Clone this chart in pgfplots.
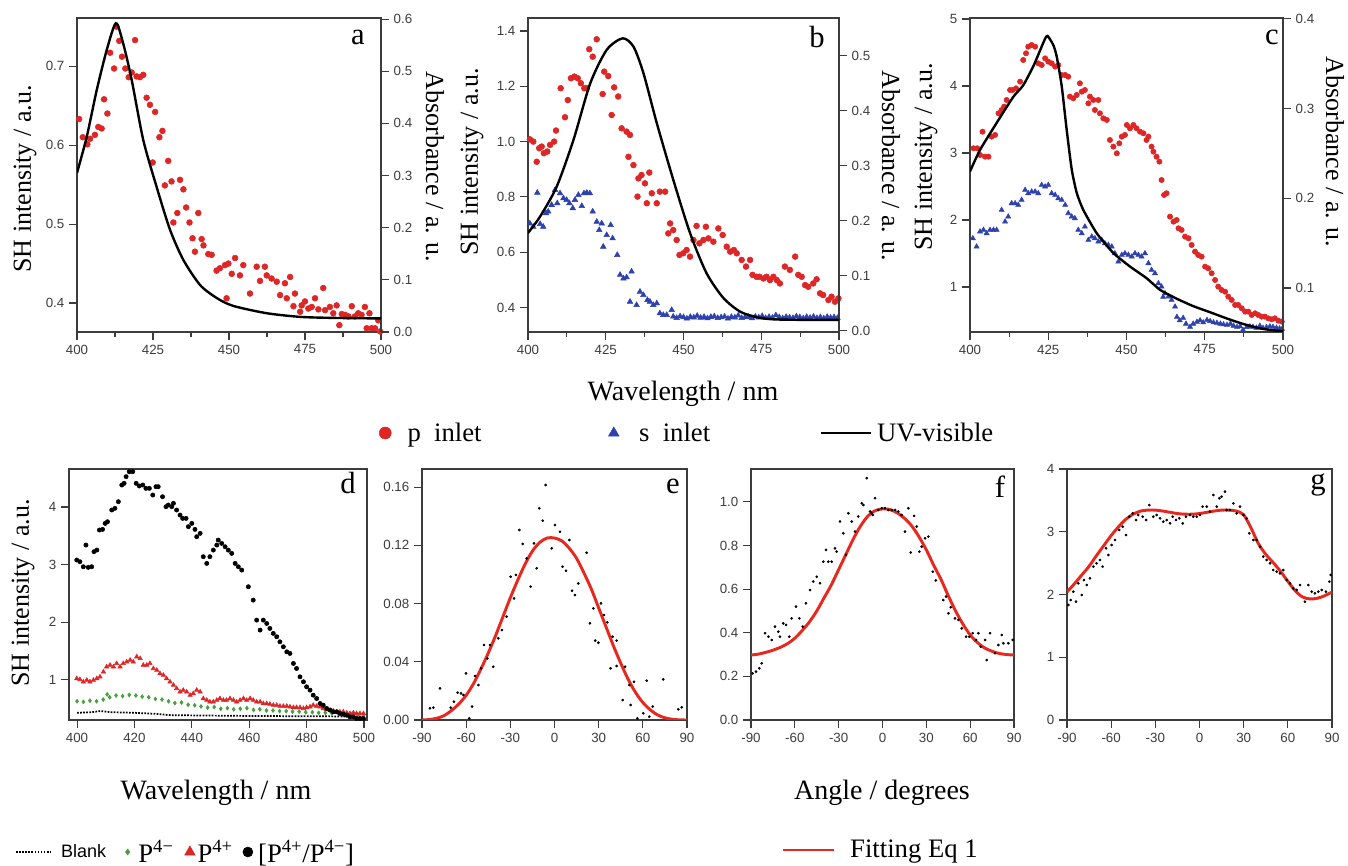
\documentclass[border=0pt]{standalone}
\usepackage{fontspec}
\setmainfont{Liberation Serif}
\setsansfont{Liberation Sans}
\usepackage{pgfplots}
\pgfplotsset{compat=1.18}

\definecolor{ptred}{RGB}{222,38,38}
\definecolor{ptblue}{RGB}{45,65,175}
\definecolor{ptgreen}{RGB}{70,160,60}
\definecolor{fitred}{RGB}{232,40,30}
\definecolor{axgray}{RGB}{60,60,60}

\newcommand{\lbl}{\fontsize{19.5}{22}\selectfont}
\newcommand{\letterfont}{\fontsize{23}{25}\selectfont}

\pgfplotsset{
  panel/.style={
    scale only axis, anchor=south west,
    axis line style={line width=0.9pt, draw=axgray},
    every tick/.style={line width=0.8pt, draw=axgray},
    tick align=outside,
    major tick length=6pt, minor tick length=3.5pt,
    tick label style={font=\sffamily\fontsize{10}{12}\selectfont, text=axgray},
    /pgf/number format/assume math mode=true,
    scaled ticks=false,
  },
  topL/.style={panel, height=235.5pt, xmin=400, xmax=500,
    xtick={400,425,...,500}, minor x tick num=1, tick pos=left},
  topR/.style={panel, height=235.5pt, xmin=400, xmax=500,
    axis x line=none, axis y line*=right,
    yticklabel style={/pgf/number format/fixed,
      /pgf/number format/fixed zerofill, /pgf/number format/precision=1}},
  bot/.style={panel, height=188.25pt, tick pos=left},
  angle/.style={bot, xmin=-90, xmax=90, xtick={-90,-60,...,90}},
  reddot/.style={only marks, mark=*, color=ptred, mark size=2.2pt},
  bluetri/.style={only marks, mark=triangle*, color=ptblue, mark size=2.4pt},
  uvline/.style={black, line width=1.8pt, smooth, tension=0.45},
  smalldot/.style={only marks, mark=*, black, mark size=0.8pt},
  fitline/.style={fitred, line width=2.2pt, smooth},
  % legend images: mark of given size, then empty room up to the text
  legmark/.style 2 args={legend image code/.code={
    \draw[##1, mark size=#1] plot coordinates {(0pt,0pt)}; \path (#2,0pt);}},
  legline/.style 2 args={legend image code/.code={
    \draw[##1] (0pt,0pt) -- (#1,0pt); \path (#2,0pt);}},
  plainleg/.style={draw=none, fill=none, inner sep=0pt, column sep=0pt,
    nodes={inner sep=0pt}, font=\fontsize{20}{24}\selectfont},
}

\begin{document}
\begin{tikzpicture}
\path[use as bounding box] (0,0) rectangle (1011pt,649.5pt);

% ---------------- panel a ----------------
\begin{axis}[topL, at={(57.75pt,400.5pt)}, width=228pt,
  ymin=0.3633, ymax=0.761, ytick={0.4,0.5,0.6,0.7}]
\addplot[reddot] coordinates {
(400.7,0.633) (401.9,0.610) (403.4,0.601) (404.3,0.608) (405.9,0.613) (407.0,0.623)
(408.1,0.621) (408.9,0.658) (410.0,0.640) (410.9,0.717) (412.2,0.697) (413.0,0.750)
(413.9,0.732) (414.8,0.712) (415.9,0.697) (417.0,0.686) (418.0,0.692) (419.1,0.733)
(419.6,0.687) (420.7,0.686) (421.8,0.689) (422.9,0.660) (424.0,0.651) (425.7,0.642)
(424.9,0.578) (427.1,0.610) (428.1,0.618) (428.9,0.549) (430.0,0.580) (431.1,0.554)
(431.7,0.502) (433.0,0.514) (433.9,0.556) (435.0,0.544) (435.9,0.521) (437.0,0.502)
(438.0,0.482) (438.8,0.465) (439.9,0.514) (441.0,0.481) (441.6,0.473) (443.2,0.462)
(444.3,0.461) (445.9,0.441) (447.0,0.444) (448.7,0.448) (449.2,0.406) (449.8,0.450)
(450.9,0.437) (452.0,0.457) (453.6,0.435) (454.7,0.448) (456.9,0.412) (459.1,0.446)
(460.2,0.428) (461.8,0.446) (462.4,0.435) (464.0,0.431) (465.7,0.427) (466.8,0.410)
(468.4,0.425) (469.0,0.406) (470.1,0.433) (471.2,0.396) (471.7,0.412) (473.4,0.389)
(473.9,0.397) (475.0,0.402) (476.1,0.393) (477.2,0.395) (478.3,0.406) (479.4,0.392)
(481.0,0.419) (481.6,0.391) (483.2,0.395) (484.3,0.387) (485.4,0.397) (486.3,0.372)
(487.1,0.386) (488.2,0.385) (489.3,0.383) (490.4,0.396) (491.4,0.383) (492.5,0.387)
(493.6,0.385) (494.7,0.395) (495.3,0.368) (496.2,0.387) (496.9,0.368) (498.0,0.368)
(499.1,0.378) (499.7,0.364)};
\end{axis}
\begin{axis}[topR, at={(57.75pt,400.5pt)}, width=228pt,
  ymin=0, ymax=0.602, ytick={0,0.1,...,0.6}]
\addplot[uvline] coordinates {
(400,0.305) (403.2,0.374) (406.5,0.464) (409.8,0.541) (412.8,0.592) (415.2,0.553)
(418,0.483) (421.8,0.368) (426.2,0.278) (430.6,0.196) (435,0.138) (440.5,0.090)
(446,0.065) (451.4,0.050) (462.4,0.036) (473.4,0.029) (484.3,0.027) (500,0.026)};
\end{axis}

% ---------------- panel b ----------------
\begin{axis}[topL, at={(396pt,400.5pt)}, width=233.25pt,
  ymin=0.3114, ymax=1.447, ytick={0.4,0.6,...,1.4},
  yticklabel style={/pgf/number format/fixed,
    /pgf/number format/fixed zerofill, /pgf/number format/precision=1},
  legend columns=3,
  legend style={plainleg, at={(-0.4791,-0.3217)}, anchor=west}]
\addplot[reddot, legmark={4.5pt}{16.5pt}] coordinates {
(400.6,1.008) (401.7,1.000) (402.8,0.927) (403.6,0.976) (404.4,0.982) (405.1,0.958)
(406.2,0.964) (407.1,0.988) (408.4,1.000) (409.0,1.040) (410.5,1.193) (411.9,1.088)
(412.8,1.150) (413.8,1.229) (414.9,1.235) (416.0,1.229) (417.0,1.211) (418.1,1.193)
(418.9,1.193) (419.7,1.334) (420.8,1.307) (422.1,1.370) (424.0,1.172) (424.5,1.253)
(425.8,1.237) (426.9,1.096) (427.7,1.196) (429.0,1.163) (430.1,1.048) (431.7,1.036)
(432.8,1.024) (432.3,0.945) (433.9,0.915) (435.5,0.867) (436.5,0.879) (437.6,0.849)
(439.0,0.888) (435.2,0.801) (438.2,0.777) (439.8,0.813) (441.4,0.777) (442.4,0.819)
(444.1,0.819) (445.7,0.704) (445.1,0.668) (446.7,0.680) (447.8,0.644) (448.7,0.590)
(449.9,0.596) (451.0,0.608) (452.1,0.584) (453.2,0.644) (454.2,0.695) (455.1,0.632)
(456.4,0.644) (457.2,0.692) (458.0,0.650) (459.6,0.638) (461.2,0.686) (462.6,0.662)
(463.9,0.620) (465.0,0.602) (466.2,0.608) (467.1,0.596) (468.7,0.572) (470.1,0.548)
(471.4,0.572) (472.2,0.518) (473.5,0.511) (474.4,0.511) (475.7,0.505) (476.7,0.511)
(477.8,0.499) (478.9,0.511) (480.0,0.499) (481.0,0.487) (482.6,0.548) (484.2,0.536)
(485.9,0.584) (486.9,0.518) (488.0,0.511) (489.1,0.481) (490.1,0.475) (491.7,0.487)
(492.8,0.502) (493.9,0.451) (494.9,0.445) (496.6,0.427) (497.6,0.439) (498.7,0.421)
(499.8,0.433)};
\addlegendentry{p\ \ inlet\hspace*{95.25pt}}
\addplot[bluetri, legmark={4.5pt}{18.75pt}] coordinates {
(400.6,0.704) (401.7,0.692) (403.0,0.815) (403.9,0.702) (404.9,0.692) (405.8,0.741)
(406.5,0.747) (407.6,0.771) (408.7,0.825) (409.4,0.777) (410.3,0.813) (411.4,0.795)
(412.4,0.789) (413.3,0.777) (414.4,0.759) (415.1,0.789) (416.2,0.807) (417.3,0.767)
(418.0,0.813) (418.9,0.815) (419.9,0.813) (420.8,0.747) (422.1,0.710) (422.9,0.680)
(423.7,0.704) (424.2,0.620) (425.3,0.662) (426.6,0.698) (427.2,0.650) (428.7,0.590)
(429.6,0.518) (430.7,0.505) (431.7,0.509) (433.3,0.530) (432.8,0.421) (434.9,0.409)
(436.0,0.457) (437.1,0.445) (438.4,0.427) (439.2,0.421) (440.3,0.409) (441.4,0.415)
(442.4,0.379) (443.5,0.373) (444.6,0.373) (446.2,0.391) (446.7,0.367) (447.8,0.362)
(448.9,0.368) (450.0,0.365) (451.1,0.360) (452.2,0.366) (453.3,0.364) (454.4,0.370)
(455.5,0.363) (456.6,0.366) (457.7,0.361) (458.8,0.366) (459.9,0.368) (461.0,0.362)
(462.1,0.365) (463.2,0.367) (464.3,0.360) (465.4,0.366) (466.5,0.364) (467.6,0.371)
(468.7,0.362) (469.8,0.365) (470.9,0.366) (472.0,0.361) (473.1,0.367) (474.2,0.364)
(475.3,0.369) (476.4,0.362) (477.5,0.366) (478.6,0.363) (479.7,0.372) (480.8,0.365)
(481.9,0.361) (483.0,0.366) (484.1,0.364) (485.2,0.362) (486.3,0.368) (487.4,0.365)
(488.5,0.361) (489.6,0.366) (490.7,0.363) (491.8,0.367) (492.9,0.362) (494.0,0.365)
(495.1,0.361) (496.2,0.366) (497.3,0.363) (498.4,0.365) (499.5,0.362)};
\addlegendentry{s\ \ inlet\hspace*{82.5pt}}
\addlegendimage{uvline, legline={37.5pt}{41pt}}
\addlegendentry{UV-visible}
\end{axis}
\begin{axis}[topR, at={(396pt,400.5pt)}, width=233.25pt,
  ymin=-0.002, ymax=0.569, ytick={0,0.1,...,0.5}]
\addplot[uvline] coordinates {
(400,0.178) (403.9,0.208) (409.2,0.262) (414.6,0.347) (420,0.450) (425.3,0.511)
(430.4,0.532) (433.9,0.517) (437.1,0.469) (441.4,0.378) (446.7,0.275) (452.1,0.178)
(457.4,0.105) (462.8,0.060) (468.2,0.035) (473.5,0.025) (478.9,0.021) (489.6,0.020)
(500,0.020)};
\end{axis}

% ---------------- panel c ----------------
\begin{axis}[topL, at={(727.5pt,400.5pt)}, width=234.75pt,
  ymin=0.328, ymax=5.015, ytick={1,2,3,4,5}]
\addplot[reddot, mark size=2pt] coordinates {
(401.1,3.070) (402.3,3.070) (403.2,2.970) (404.0,3.318) (404.8,2.945) (405.9,2.945)
(406.9,3.244) (408.0,3.269) (409.1,3.592) (410.1,3.642) (410.9,3.692) (411.7,3.791)
(412.8,3.940) (413.6,3.940) (414.7,3.965) (416.0,4.065) (417.0,4.388) (417.9,4.488)
(418.6,4.587) (419.7,4.612) (420.8,4.587) (421.8,4.338) (422.9,4.313) (424.0,4.413)
(425.0,4.363) (426.1,4.338) (427.2,4.289) (428.2,4.313) (429.3,4.164) (430.4,4.164)
(431.4,4.139) (431.9,3.841) (433.0,3.816) (434.1,3.866) (435.1,4.040) (435.7,3.915)
(436.7,3.940) (437.8,3.741) (438.3,3.841) (439.4,3.791) (439.9,3.642) (441.0,3.791)
(441.5,3.592) (442.6,3.517) (443.7,3.493) (444.7,3.194) (445.8,3.095) (446.9,2.995)
(447.7,3.144) (448.5,3.244) (449.5,3.269) (450.1,3.418) (451.1,3.368) (452.2,3.418)
(453.2,3.368) (454.3,3.318) (455.4,3.294) (456.4,3.194) (457.0,3.244) (458.0,3.095)
(458.6,3.020) (459.6,2.945) (460.5,2.871) (461.2,2.597) (462.0,2.373) (462.8,2.398)
(463.9,2.050) (465.0,1.975) (466.0,2.000) (466.6,1.876) (467.6,1.851) (468.7,1.751)
(469.8,1.726) (470.8,1.627) (471.9,1.527) (472.9,1.478) (474.0,1.453) (475.1,1.303)
(476.1,1.279) (477.2,1.204) (478.3,1.104) (479.3,1.005) (480.4,0.955) (481.5,0.930)
(482.5,0.856) (483.6,0.806) (484.7,0.731) (485.7,0.731) (486.8,0.682) (487.9,0.632)
(488.9,0.632) (490.0,0.582) (491.1,0.607) (492.1,0.582) (493.2,0.557) (494.2,0.557)
(495.3,0.532) (496.4,0.517) (497.4,0.532) (498.5,0.497) (499.6,0.483)};
\addplot[bluetri, mark size=2.2pt] coordinates {
(400.9,1.726) (402.1,1.602) (403.2,1.826) (404.3,1.851) (405.3,1.801) (406.4,1.851)
(407.5,1.851) (408.5,1.851) (410.1,2.149) (411.2,1.975) (412.2,2.050) (413.3,2.249)
(414.4,2.249) (415.4,2.224) (416.5,2.299) (417.6,2.448) (418.6,2.398) (419.7,2.423)
(420.8,2.423) (421.8,2.398) (422.9,2.522) (424.0,2.498) (425.0,2.522) (426.1,2.398)
(427.2,2.373) (428.2,2.323) (429.3,2.299) (430.4,2.224) (431.4,2.100) (432.5,2.050)
(433.5,2.025) (434.6,1.851) (435.7,1.801) (436.7,1.900) (437.8,1.701) (438.9,1.751)
(439.9,1.726) (441.0,1.677) (442.1,1.701) (443.1,1.652) (444.2,1.627) (445.3,1.602)
(446.3,1.502) (447.4,1.378) (448.5,1.478) (449.5,1.502) (450.6,1.478) (451.7,1.453)
(452.7,1.502) (453.8,1.478) (454.8,1.453) (455.9,1.502) (457.0,1.353) (458.0,1.254)
(459.1,1.204) (460.2,1.055) (461.2,1.005) (461.7,0.851) (462.3,0.905) (463.4,0.856)
(464.4,0.806) (465.5,0.706) (466.1,0.552) (467.0,0.500) (468.1,0.537) (469.0,0.450)
(470.3,0.403) (471.3,0.450) (472.5,0.478) (473.5,0.500) (474.5,0.470) (475.7,0.507)
(476.7,0.490) (477.8,0.470) (478.9,0.463) (480.0,0.450) (481.0,0.440) (482.1,0.433)
(483.2,0.450) (484.2,0.420) (485.3,0.403) (486.3,0.410) (487.2,0.358) (488.4,0.400)
(489.4,0.410) (490.4,0.403) (491.5,0.390) (492.6,0.420) (493.6,0.388) (494.7,0.400)
(495.8,0.410) (496.8,0.403) (497.9,0.390) (498.9,0.380) (499.7,0.373)};
\end{axis}
\begin{axis}[topR, at={(727.5pt,400.5pt)}, width=234.75pt,
  ymin=0.051, ymax=0.401, ytick={0.1,0.2,0.3,0.4}]
\addplot[uvline, tension=0.35] coordinates {
(400,0.230) (403.2,0.254) (408.5,0.284) (413.8,0.313) (417,0.326) (420.2,0.347)
(422.4,0.365) (424,0.378) (424.8,0.381) (426.6,0.371) (427.7,0.358) (429.3,0.325)
(430.9,0.276) (432.5,0.232) (434.1,0.206) (436.2,0.187) (440.5,0.161) (445.8,0.139)
(451.1,0.124) (456.4,0.111) (460.7,0.098) (466.1,0.088) (471.2,0.080) (476.7,0.073)
(482.1,0.066) (487.2,0.060) (492.7,0.055) (496.5,0.053) (500,0.052)};
\end{axis}

% ---------------- panel d ----------------
\begin{axis}[bot, at={(51.75pt,109.5pt)}, width=223.5pt,
  xmin=397.2, xmax=501.05, ymin=0.305, ymax=4.66,
  xtick={400,420,...,500}, ytick={1,2,3,4},
  legend columns=4,
  legend style={plainleg, at={(-0.1812,-0.5259)}, anchor=west}]
\addplot[black, densely dotted, line width=1.3pt, legline={26.25pt}{33pt}]
coordinates {
(400,0.43) (405,0.44) (408,0.46) (412,0.44) (420,0.43) (428,0.41) (432,0.39)
(440,0.385) (450,0.38) (460,0.375) (480,0.37) (500,0.365)};
\addlegendentry{{\sffamily\fontsize{13.5}{16}\selectfont Blank}\hspace*{14.6pt}}
\addplot[only marks, mark=diamond*, color=ptgreen, mark size=1.5pt,
  legmark={2.2pt}{7.8pt}]
coordinates {
(400.0,0.63) (402.2,0.62) (404.5,0.64) (406.8,0.63) (409.1,0.66) (410.5,0.75)
(411.4,0.70) (413.6,0.73) (415.9,0.72) (418.2,0.74) (420.5,0.73) (422.7,0.71)
(425.0,0.70) (427.3,0.67) (429.6,0.66) (431.9,0.63) (434.1,0.60) (436.4,0.61)
(438.7,0.57) (441.0,0.56) (443.2,0.54) (445.5,0.52) (447.8,0.53) (450.1,0.50)
(452.4,0.51) (454.6,0.49) (456.9,0.50) (459.2,0.51) (461.5,0.48) (463.7,0.49)
(466.0,0.47) (468.3,0.47) (470.6,0.46) (472.9,0.46) (475.1,0.45) (477.4,0.45)
(479.7,0.44) (482.0,0.44) (484.2,0.43) (486.5,0.43) (488.8,0.42) (491.1,0.42)
(493.4,0.41) (495.6,0.41) (497.9,0.40) (500.0,0.40)};
\addlegendentry{P\textsuperscript{4−}\hspace*{8.25pt}}
\addplot[only marks, mark=triangle*, color=ptred, mark size=1.9pt,
  legmark={4.5pt}{5.5pt}]
coordinates {
(399.9,1.025) (401.0,1.008) (402.2,0.968) (403.4,0.997) (404.5,0.968) (405.7,0.997)
(406.9,1.025) (408.0,1.054) (409.2,1.141) (410.3,1.228) (411.5,1.257) (412.7,1.228)
(413.8,1.286) (415.0,1.228) (416.1,1.286) (417.3,1.315) (418.5,1.344) (419.6,1.315)
(420.8,1.402) (422.0,1.373) (423.1,1.257) (424.3,1.257) (425.4,1.286) (426.6,1.199)
(427.8,1.170) (428.9,1.112) (430.1,1.083) (431.2,1.025) (432.4,0.968) (433.6,0.910)
(434.7,0.852) (435.9,0.794) (437.0,0.823) (438.2,0.794) (439.4,0.736) (440.5,0.765)
(441.7,0.823) (442.9,0.794) (444.0,0.678) (445.2,0.649) (446.3,0.620) (447.5,0.620)
(448.7,0.649) (449.8,0.678) (451.0,0.649) (452.1,0.649) (453.3,0.678) (454.5,0.649)
(455.6,0.620) (456.8,0.649) (458.0,0.678) (459.1,0.649) (460.3,0.678) (461.4,0.649)
(462.6,0.620) (463.8,0.620) (464.9,0.591) (466.1,0.591) (467.2,0.580) (468.4,0.562)
(469.6,0.562) (470.7,0.545) (471.9,0.545) (473.1,0.545) (474.2,0.534) (475.4,0.522)
(476.5,0.522) (477.7,0.522) (478.9,0.505) (480.0,0.522) (481.2,0.534) (482.3,0.562)
(483.5,0.545) (484.7,0.534) (485.8,0.505) (487.0,0.487) (488.2,0.476) (489.3,0.464)
(490.5,0.447) (491.6,0.447) (492.8,0.447) (494.0,0.429) (495.1,0.418) (496.3,0.429)
(497.4,0.418) (498.6,0.418) (499.8,0.418)};
\addlegendentry{P\textsuperscript{4+}\hspace*{7.5pt}}
\addplot[only marks, mark=*, black, mark size=1.6pt, legmark={3.75pt}{7.5pt}]
coordinates {
(399.9,3.080) (401.0,3.051) (402.2,2.964) (403.1,3.340) (403.9,2.953) (405.1,2.964)
(405.9,3.225) (406.9,3.253) (407.8,3.601) (408.9,3.612) (409.8,3.716) (410.6,3.745)
(412.1,3.948) (413.2,3.977) (414.4,4.093) (415.6,4.382) (416.4,4.411) (417.1,4.527)
(418.2,4.613) (419.4,4.613) (420.6,4.411) (421.7,4.365) (422.9,4.382) (424.0,4.324)
(425.2,4.324) (426.4,4.208) (427.5,4.353) (428.3,4.353) (429.8,4.179) (431.0,4.006)
(431.8,4.035) (433.0,4.006) (433.6,4.064) (434.7,3.948) (435.9,3.861) (436.8,3.803)
(438.0,3.803) (438.8,3.659) (440.0,3.716) (441.1,3.612) (441.7,3.485) (442.9,3.543)
(444.0,3.138) (445.2,3.022) (446.3,3.138) (447.5,3.253) (448.7,3.340) (449.2,3.427)
(450.4,3.369) (451.6,3.311) (452.7,3.253) (453.9,3.196) (455.1,3.022) (456.2,2.964)
(457.4,2.906) (459.7,2.617) (461.4,2.385) (462.6,2.038) (463.8,1.865) (464.9,2.038)
(466.1,1.980) (467.2,1.894) (468.4,1.807) (469.6,1.749) (470.7,1.662) (471.9,1.575)
(473.1,1.488) (474.2,1.460) (475.4,1.286) (476.5,1.199) (477.7,1.054) (478.9,0.968)
(480.0,0.881) (481.2,0.823) (482.3,0.736) (483.5,0.678) (484.7,0.591) (485.8,0.562)
(487.0,0.505) (488.2,0.476) (489.3,0.447) (490.5,0.447) (491.6,0.418) (492.8,0.406)
(494.0,0.389) (495.1,0.360) (496.3,0.360) (497.4,0.331) (498.6,0.331) (499.8,0.331)};
\addlegendentry{[P\textsuperscript{4+}/P\textsuperscript{4−}]}
\end{axis}

% ---------------- panel e ----------------
\begin{axis}[angle, at={(316.5pt,109.5pt)}, width=198.75pt,
  ymin=0, ymax=0.1724, ytick={0,0.04,...,0.16},
  yticklabel style={/pgf/number format/fixed,
    /pgf/number format/fixed zerofill, /pgf/number format/precision=2}]
\addplot[smalldot] coordinates {
(-84.6,0.0080) (-82.3,0.0085) (-77.8,0.0217) (-70.5,0.0085) (-68.3,0.0126) (-65.8,0.0188)
(-63.5,0.0183) (-61.9,0.0172) (-60.1,0.0320) (-57.9,0.0011) (-56.0,0.0092) (-54.0,0.0302)
(-51.7,0.0240) (-49.9,0.0355) (-47.9,0.0515) (-45.6,0.0423) (-43.8,0.0515) (-41.6,0.0366)
(-38.2,0.0561) (-35.7,0.0618) (-32.5,0.0710) (-29.8,0.0984) (-27.5,0.0835) (-26.2,0.0996)
(-23.9,0.1305) (-21.6,0.1209) (-18.9,0.1110) (-16.2,0.0916) (-13.9,0.1213) (-12.1,0.1042)
(-10.3,0.1454) (-8.0,0.1369) (-6.0,0.1614) (-1.9,0.1179) (0.3,0.1339) (3.7,0.1293)
(5.5,0.1053) (7.8,0.1025) (10.1,0.1236) (11.9,0.0888) (13.9,0.0858) (16.2,0.0938)
(21.8,0.1149) (24.1,0.0664) (26.4,0.0767) (27.7,0.0545) (29.8,0.0531) (31.6,0.0801)
(33.6,0.0721) (35.9,0.0671) (39.5,0.0572) (42.2,0.0545) (38.1,0.0355) (42.2,0.0371)
(47.9,0.0366) (46.3,0.0137) (51.7,0.0103) (50.8,0.0240) (54.0,0.0263) (56.3,0.0011)
(60.3,0.0046) (62.6,0.0270) (64.4,0.0023) (66.7,0.0092) (73.9,0.0279) (84.1,0.0073)
(86.4,0.0087)};
\addplot[fitline] coordinates {
(-90,0) (-85,0.0003) (-80,0.0012) (-75,0.003) (-70,0.0065) (-65,0.011) (-60,0.017)
(-55,0.025) (-50,0.035) (-45,0.046) (-40,0.058) (-35,0.071) (-30,0.084) (-25,0.096)
(-20,0.107) (-15,0.116) (-10,0.122) (-5,0.125) (0,0.125) (5,0.123) (10,0.118)
(15,0.111) (20,0.101) (25,0.090) (30,0.077) (35,0.064) (40,0.051) (45,0.039)
(50,0.028) (55,0.019) (60,0.012) (65,0.007) (70,0.0035) (75,0.0015) (80,0.0005)
(85,0.0001) (90,0)};
\end{axis}

% ---------------- panel f ----------------
\begin{axis}[angle, at={(563.25pt,109.5pt)}, width=197.25pt,
  ymin=0, ymax=1.151, ytick={0,0.2,...,1.0},
  yticklabel style={/pgf/number format/fixed,
    /pgf/number format/fixed zerofill, /pgf/number format/precision=1},
  legend style={plainleg, at={(0.1141,-0.5179)}, anchor=west}]
\addplot[smalldot, forget plot] coordinates {
(-88.9,0.214) (-86.6,0.222) (-84.3,0.237) (-82.7,0.260) (-80.4,0.398) (-78.1,0.382)
(-75.8,0.367) (-73.6,0.428) (-71.3,0.405) (-70.2,0.382) (-67.9,0.443) (-66.0,0.436)
(-63.8,0.382) (-62.2,0.466) (-59.2,0.520) (-56.9,0.466) (-54.6,0.428) (-52.4,0.535)
(-49.6,0.596) (-47.4,0.635) (-45.0,0.657) (-42.8,0.627) (-40.5,0.726) (-38.7,0.780)
(-37.1,0.726) (-34.8,0.726) (-32.5,0.787) (-31.4,0.772) (-29.1,0.910) (-26.8,0.856)
(-25.0,0.757) (-23.4,0.948) (-21.1,0.910) (-18.8,0.864) (-16.6,0.933) (-14.2,0.994)
(-13.1,0.986) (-10.8,1.109) (-8.5,0.956) (-7.4,0.948) (-6.7,0.940) (-5.1,1.017)
(-2.9,0.963) (-0.5,0.971) (1.7,0.971) (4.0,0.963) (6.3,0.963) (8.6,0.963)
(10.8,0.956) (13.1,0.940) (15.4,0.864) (17.7,0.971) (19.3,0.768) (21.6,0.936)
(23.4,0.887) (25.2,0.772) (26.8,0.795) (29.1,0.833) (31.4,0.841) (34.4,0.680)
(36.5,0.640) (41.6,0.550) (43.5,0.566) (45.1,0.489) (46.7,0.517) (49.6,0.466)
(51.9,0.459) (54.2,0.420) (57.2,0.382) (59.4,0.382) (61.7,0.398) (64.0,0.367)
(65.6,0.398) (67.2,0.336) (70.2,0.367) (71.3,0.275) (73.6,0.398) (77.0,0.306)
(79.3,0.344) (81.6,0.390) (82.7,0.352) (86.1,0.352) (89.1,0.367)};
\addplot[fitline, legline={38.25pt}{49.5pt}] coordinates {
(-90,0.298) (-85,0.302) (-80,0.31) (-75,0.32) (-70,0.333) (-65,0.35) (-60,0.375)
(-55,0.41) (-50,0.45) (-45,0.50) (-40,0.56) (-35,0.62) (-30,0.69) (-25,0.76)
(-20,0.83) (-15,0.89) (-10,0.935) (-5,0.96) (0,0.968) (5,0.965) (10,0.95)
(15,0.925) (20,0.89) (25,0.84) (30,0.78) (35,0.71) (40,0.645) (45,0.57)
(50,0.50) (55,0.44) (60,0.39) (65,0.355) (70,0.33) (75,0.315) (80,0.305)
(85,0.30) (90,0.298)};
\addlegendentry{Fitting Eq 1}
\end{axis}

% ---------------- panel g ----------------
\begin{axis}[angle, at={(800.25pt,109.5pt)}, width=198.75pt,
  ymin=0, ymax=4, ytick={0,1,2,3,4}]
\addplot[smalldot] coordinates {
(-89.1,1.833) (-87.5,1.912) (-85.7,2.045) (-83.9,1.886) (-82.3,2.178) (-80.0,1.992)
(-78.5,2.231) (-76.6,2.151) (-74.4,2.258) (-72.1,2.444) (-69.9,2.497) (-67.6,2.550)
(-65.8,2.444) (-63.5,2.736) (-61.9,2.629) (-59.7,2.789) (-57.4,2.869) (-54.5,3.028)
(-52.2,3.081) (-49.9,2.948) (-47.7,3.240) (-45.4,3.293) (-43.1,3.187) (-41.6,3.267)
(-38.6,3.240) (-36.3,3.187) (-34.1,3.426) (-31.4,3.240) (-29.1,3.267) (-26.8,3.214)
(-24.6,3.161) (-22.3,3.187) (-20.0,3.134) (-18.2,3.240) (-16.0,3.187) (-13.7,3.214)
(-11.4,3.134) (-9.2,3.240) (-6.5,3.267) (-4.2,3.240) (-1.9,3.240) (0.3,3.267)
(2.1,3.400) (4.9,3.400) (7.1,3.320) (9.4,3.586) (11.7,3.400) (13.5,3.533)
(15.0,3.559) (17.3,3.639) (18.4,3.347) (20.7,3.347) (23.0,3.453) (25.2,3.293)
(27.5,3.400) (29.8,3.267) (32.0,3.214) (33.8,2.975) (36.6,2.869) (38.8,2.869)
(41.1,2.762) (43.3,2.603) (45.6,2.550) (47.9,2.497) (50.1,2.390) (52.4,2.364)
(54.7,2.337) (56.9,2.390) (59.2,2.231) (61.5,2.178) (63.7,2.098) (66.0,2.072)
(68.3,2.151) (71.6,1.886) (73.9,2.151) (76.2,2.045) (78.4,2.019) (80.7,2.045)
(83.0,2.072) (85.9,2.045) (88.2,2.205) (89.1,2.311)};
\addplot[fitline] coordinates {
(-90,2.04) (-85,2.17) (-80,2.31) (-75,2.45) (-70,2.62) (-65,2.78) (-60,2.94)
(-55,3.08) (-50,3.20) (-45,3.28) (-40,3.33) (-35,3.345) (-30,3.345) (-25,3.33)
(-20,3.31) (-15,3.29) (-10,3.28) (-5,3.28) (0,3.29) (5,3.31) (10,3.33)
(15,3.345) (20,3.345) (25,3.33) (30,3.27) (35,3.06) (40,2.81) (45,2.64)
(50,2.51) (55,2.37) (60,2.21) (65,2.06) (70,1.96) (75,1.93) (80,1.94)
(85,1.98) (90,2.04)};
\end{axis}

% ---------------- labels ----------------
\node[rotate=90, font=\lbl] at (18.75pt,515.25pt) {SH intensity / a.u.};
\node[rotate=-90, font=\lbl] at (326.25pt,524.25pt) {Absorbance / a. u.};
\node[rotate=90, font=\lbl] at (354pt,528pt) {SH intensity / a.u.};
\node[rotate=-90, font=\lbl] at (668.25pt,525pt) {Absorbance / a. u.};
\node[rotate=90, font=\lbl] at (694.5pt,531.75pt) {SH intensity / a.u.};
\node[rotate=-90, font=\lbl] at (1001.25pt,535.5pt) {Absorbance / a. u.};
\node[rotate=90, font=\lbl] at (17.25pt,204.75pt) {SH intensity / a.u.};

\node[font=\fontsize{21}{24}\selectfont] at (512.25pt,354pt) {Wavelength / nm};
\node[font=\fontsize{21}{24}\selectfont] at (162pt,54.75pt) {Wavelength / nm};
\node[font=\fontsize{21}{24}\selectfont] at (661.5pt,54.75pt) {Angle / degrees};

\node[font=\letterfont, inner sep=0pt] at (268.5pt,621.75pt) {a};
\node[font=\letterfont, inner sep=0pt] at (612.75pt,621.75pt) {b};
\node[font=\letterfont, inner sep=0pt] at (954pt,621.75pt) {c};
\node[font=\letterfont, inner sep=0pt] at (261pt,287.25pt) {d};
\node[font=\letterfont, inner sep=0pt] at (504.75pt,285pt) {e};
\node[font=\letterfont, inner sep=0pt] at (750pt,284.25pt) {f};
\node[font=\letterfont, inner sep=0pt] at (988.5pt,285.75pt) {g};
\end{tikzpicture}
\end{document}
